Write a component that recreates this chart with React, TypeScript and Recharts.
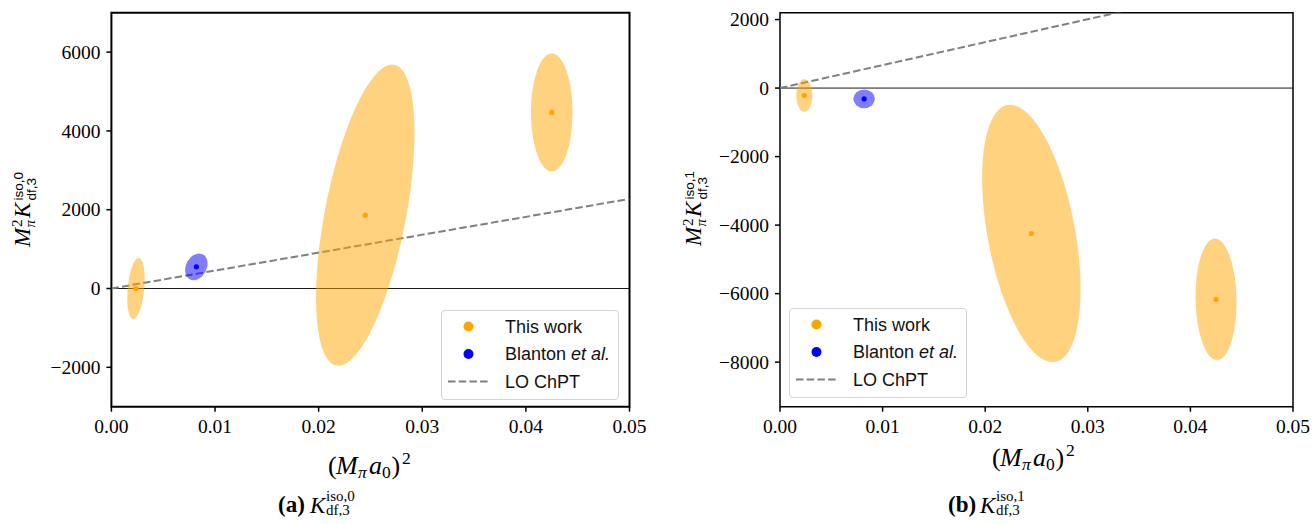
import {
  ComposedChart,
  Scatter,
  Line,
  XAxis,
  YAxis,
  ReferenceLine,
  ReferenceArea,
  Legend,
} from "recharts"

// (M_pi a_0)^2 of the ensembles
const thisWorkX = [0.00237, 0.0245, 0.0425]
const blantonX = [0.0082]

// (a) iso,0 — centre, offset of the topmost ellipse point, half width at centre height
const iso0Y = [0, 1862, 4468]
const iso0TopDx = [0.00026, 0.0026, 0]
const iso0TopDy = [775, 3825, 1498]
const iso0HalfW = [0.0008, 0.00398, 0.00201]
const blanton0Y = [551]
const blanton0TopDx = [0.00027]
const blanton0TopDy = [340]
const blanton0HalfW = [0.00105]
const chpt0X = [0, 0.05]
const chpt0Y = [0, 2274]

// (b) iso,1
const iso1Y = [-217, -4245, -6166]
const iso1TopDx = [0, -0.00207, -0.0001]
const iso1TopDy = [472, 3757, 1774]
const iso1HalfW = [0.00079, 0.00433, 0.002]
const blanton1Y = [-315]
const blanton1TopDx = [0]
const blanton1TopDy = [277]
const blanton1HalfW = [0.00105]
const chpt1X = [0, 0.05]
const chpt1Y = [0, 3350]

const xTicks = [0, 0.01, 0.02, 0.03, 0.04, 0.05]
const iso0Ticks = [-2000, 0, 2000, 4000, 6000]
const iso1Ticks = [-8000, -6000, -4000, -2000, 0, 2000]
const iso0Domain = [-3000, 7000]
const iso1Domain = [-9300, 2200]

const legendNames = ["This work", "Blanton et al.", "LO ChPT"]

const ORANGE = "#ffa500"
const BLUE = "#0000ff"
const SERIF = "'Liberation Serif', 'DejaVu Serif', serif"
const SANS = "'Liberation Sans', Arial, sans-serif"

function rows(xs: number[], ys: number[], dx: number[], dy: number[], hw: number[]) {
  return xs.map((x, i) => ({ x, y: ys[i], dx: dx[i], dy: dy[i], hw: hw[i] }))
}
function linePts(xs: number[], ys: number[]) {
  return xs.map((x, i) => ({ x, y: ys[i] }))
}

const fmtY = (v: number) => (v < 0 ? `\u2212${-v}` : `${v}`)

function XTick({ x, y, payload }: any) {
  return (
    <text x={x} y={y} dy="0.71em" textAnchor="middle" fontFamily={SERIF} fontSize={19.5} fill="#000">
      {Number(payload.value).toFixed(2)}
    </text>
  )
}

function YTick({ x, y, payload }: any) {
  return (
    <text x={x} y={y} dy="0.34em" textAnchor="end" fontFamily={SERIF} fontSize={19.5} fill="#000">
      {fmtY(Number(payload.value))}
    </text>
  )
}

// unit circle mapped through conjugate semi-diameters (top point, horizontal half width)
function ellipseShape(sx: number, sy: number, fill: string) {
  return (props: any) => {
    const { cx, cy, payload } = props
    const ux = payload.dx * sx
    const uy = -payload.dy * sy
    const vx = payload.hw * sx
    return (
      <circle
        r={1}
        fill={fill}
        fillOpacity={0.5}
        transform={`matrix(${ux},${uy},${vx},0,${cx},${cy})`}
      />
    )
  }
}

function dotShape(fill: string) {
  return (props: any) => <circle cx={props.cx} cy={props.cy} r={2.6} fill={fill} />
}

function FigLegend({ payload }: any) {
  const items = (payload ?? []).filter(
    (p: any) => p.type !== "none" && legendNames.includes(String(p.value)),
  )
  items.sort((a: any, b: any) => legendNames.indexOf(a.value) - legendNames.indexOf(b.value))
  if (!items.length) return null
  const rowsY = [15.5, 43, 70.5]
  return (
    <div
      style={{
        width: 178,
        height: 90,
        boxSizing: "border-box",
        border: "1px solid #d4d4d4",
        borderRadius: 4,
        background: "rgba(255,255,255,0.8)",
      }}
    >
      <svg width={176} height={88} style={{ display: "block" }}>
        {items.map((p: any, i: number) => {
          const y = rowsY[i]
          const name = String(p.value)
          const etal = name.endsWith("et al.")
          return (
            <g key={name}>
              {p.type === "line" ? (
                <line x1={6} x2={46} y1={y} y2={y} stroke={p.color} strokeWidth={2} strokeDasharray="7.5 3.2" />
              ) : (
                <circle cx={26.5} cy={y} r={5} fill={p.color} />
              )}
              <text x={63} y={y + 6.3} fontFamily={SANS} fontSize={18} fill="#111">
                {etal ? name.replace("et al.", "") : name}
                {etal && <tspan fontStyle="italic">et al.</tspan>}
              </text>
            </g>
          )
        })}
      </svg>
    </div>
  )
}

interface PanelProps {
  width: number
  yAxisWidth: number
  right: number
  work: any[]
  blanton: any[]
  chpt: any[]
  domain: number[]
  ticks: number[]
  legendAt: { left: number; top: number }
  frame: number
}

const TOP = 12.7
const XAXIS_H = 117.3
const HEIGHT = 524

function Panel({ width, yAxisWidth, right, work, blanton, chpt, domain, ticks, legendAt, frame }: PanelProps) {
  const plotW = width - yAxisWidth - right
  const plotH = HEIGHT - TOP - XAXIS_H
  const sx = plotW / (xTicks[xTicks.length - 1] - xTicks[0])
  const sy = plotH / (domain[1] - domain[0])
  return (
    <ComposedChart width={width} height={HEIGHT} margin={{ top: TOP, right, left: 0, bottom: 0 }}>
      <XAxis
        type="number"
        dataKey="x"
        domain={[0, 0.05]}
        ticks={xTicks}
        allowDataOverflow
        height={XAXIS_H}
        axisLine={false}
        tickLine={{ stroke: "#000", strokeWidth: 1.5 }}
        tickSize={5}
        tickMargin={7}
        tick={<XTick />}
      />
      <YAxis
        type="number"
        dataKey="y"
        domain={domain}
        ticks={ticks}
        allowDataOverflow
        width={yAxisWidth}
        axisLine={false}
        tickLine={{ stroke: "#000", strokeWidth: 1.5 }}
        tickSize={5}
        tickMargin={6}
        tick={<YTick />}
      />
      <Scatter name="ellipse-work" data={work} fill={ORANGE} legendType="none" shape={ellipseShape(sx, sy, ORANGE)} isAnimationActive={false} />
      <Scatter name="ellipse-blanton" data={blanton} fill={BLUE} legendType="none" shape={ellipseShape(sx, sy, BLUE)} isAnimationActive={false} />
      <ReferenceLine y={0} stroke="#1a1a1a" strokeWidth={1} />
      <Scatter name="This work" data={work} fill={ORANGE} shape={dotShape(ORANGE)} isAnimationActive={false} />
      <Scatter name="Blanton et al." data={blanton} fill={BLUE} shape={dotShape(BLUE)} isAnimationActive={false} />
      <Line
        name="LO ChPT"
        data={chpt}
        dataKey="y"
        type="linear"
        stroke="#808080"
        strokeWidth={2}
        strokeDasharray="7.5 3.2"
        dot={false}
        activeDot={false}
        legendType="line"
        isAnimationActive={false}
      />
      <ReferenceArea
        x1={0}
        x2={0.05}
        y1={domain[0]}
        y2={domain[1]}
        fill="none"
        stroke="#000"
        strokeWidth={frame}
      />
      <Legend
        layout="horizontal"
        verticalAlign="middle"
        align="center"
        content={<FigLegend />}
        wrapperStyle={{ left: legendAt.left, top: legendAt.top, width: 178, height: 90 }}
      />
    </ComposedChart>
  )
}

function YLabel({ x, y, sup }: { x: number; y: number; sup: string }) {
  return (
    <g transform={`translate(${x},${y}) rotate(-90)`} fill="#000">
      <text x={0} y={0} fontFamily={SERIF} fontStyle="italic" fontSize={23}>M</text>
      <text x={20} y={-8.5} fontFamily={SERIF} fontSize={15}>2</text>
      <text x={19.5} y={5} fontFamily={SERIF} fontStyle="italic" fontSize={15}>π</text>
      <text x={29} y={0} fontFamily={SERIF} fontStyle="italic" fontSize={23}>K</text>
      <text x={46.5} y={-7.5} fontFamily={SANS} fontSize={13.5}>{sup}</text>
      <text x={46.5} y={5.5} fontFamily={SANS} fontSize={13.5}>df,3</text>
    </g>
  )
}

function XLabel({ cx, y }: { cx: number; y: number }) {
  const x = cx - 42
  return (
    <g fill="#000" fontFamily={SERIF}>
      <text x={x} y={y} fontSize={26}>(</text>
      <text x={x + 8} y={y} fontSize={26} fontStyle="italic">M</text>
      <text x={x + 30} y={y + 4.5} fontSize={17.5} fontStyle="italic">π</text>
      <text x={x + 41} y={y} fontSize={26} fontStyle="italic">a</text>
      <text x={x + 54} y={y + 4.5} fontSize={17.5}>0</text>
      <text x={x + 63.5} y={y} fontSize={26}>)</text>
      <text x={x + 74} y={y - 10} fontSize={17.5}>2</text>
    </g>
  )
}

function Caption({ x, y, tag, sup }: { x: number; y: number; tag: string; sup: string }) {
  return (
    <g fill="#000" fontFamily={SERIF}>
      <text x={x} y={y} fontSize={23} fontWeight="bold">{tag}</text>
      <text x={x + 32} y={y + 1} fontSize={23} fontStyle="italic">K</text>
      <text x={x + 48} y={y - 11} fontSize={15}>{sup}</text>
      <text x={x + 48} y={y + 2.5} fontSize={15}>df,3</text>
    </g>
  )
}

export default function App() {
  const work0 = rows(thisWorkX, iso0Y, iso0TopDx, iso0TopDy, iso0HalfW)
  const blan0 = rows(blantonX, blanton0Y, blanton0TopDx, blanton0TopDy, blanton0HalfW)
  const work1 = rows(thisWorkX, iso1Y, iso1TopDx, iso1TopDy, iso1HalfW)
  const blan1 = rows(blantonX, blanton1Y, blanton1TopDx, blanton1TopDy, blanton1HalfW)
  return (
    <div style={{ position: "absolute", left: 0, top: 0, width: 1316, height: 524, background: "#fff" }}>
      <div style={{ position: "absolute", left: 0, top: 0 }}>
        <Panel
          width={660}
          yAxisWidth={111.4}
          right={30.5}
          work={work0}
          blanton={blan0}
          chpt={linePts(chpt0X, chpt0Y)}
          domain={iso0Domain}
          ticks={iso0Ticks}
          legendAt={{ left: 441, top: 310 }}
          frame={2}
        />
      </div>
      <div style={{ position: "absolute", left: 660, top: 0 }}>
        <Panel
          width={656}
          yAxisWidth={120}
          right={23}
          work={work1}
          blanton={blan1}
          chpt={linePts(chpt1X, chpt1Y)}
          domain={iso1Domain}
          ticks={iso1Ticks}
          legendAt={{ left: 129, top: 307.5 }}
          frame={1.5}
        />
      </div>
      <svg
        width={1316}
        height={524}
        style={{ position: "absolute", left: 0, top: 0, pointerEvents: "none" }}
      >
        <YLabel x={30} y={247} sup="iso,0" />
        <YLabel x={701} y={246} sup="iso,1" />
        <XLabel cx={370} y={473.5} />
        <XLabel cx={1034} y={465.5} />
        <Caption x={278} y={512} tag="(a)" sup="iso,0" />
        <Caption x={948} y={512} tag="(b)" sup="iso,1" />
      </svg>
    </div>
  )
}
